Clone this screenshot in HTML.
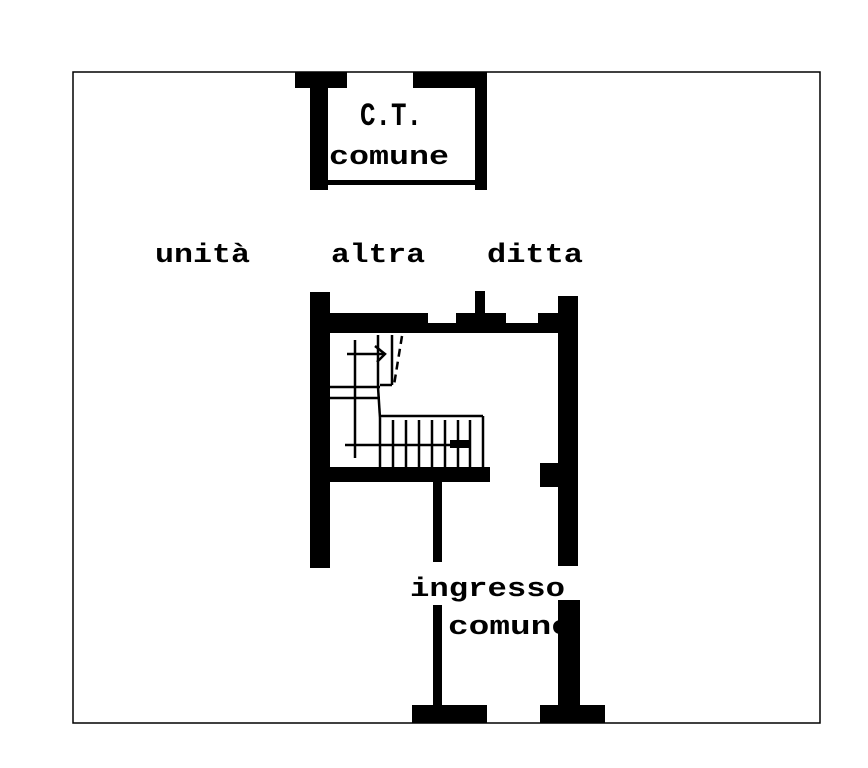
<!DOCTYPE html>
<html><head><style>
html,body{margin:0;padding:0;background:#fff;}
svg{display:block;}
text{font-family:"Liberation Mono",monospace;font-weight:bold;fill:#000;}
</style></head><body>
<svg width="868" height="768" viewBox="0 0 868 768" xmlns="http://www.w3.org/2000/svg">
<rect x="73" y="72" width="747" height="651" fill="none" stroke="#000" stroke-width="1.5"/>
<g font-size="27">
<text x="360" y="125" font-size="32" textLength="62" lengthAdjust="spacingAndGlyphs">C.T.</text>
<text x="329" y="164" textLength="120" lengthAdjust="spacingAndGlyphs">comune</text>
<text x="155" y="262" textLength="95" lengthAdjust="spacingAndGlyphs">unità</text>
<text x="331" y="262" textLength="94" lengthAdjust="spacingAndGlyphs">altra</text>
<text x="487" y="262" textLength="96" lengthAdjust="spacingAndGlyphs">ditta</text>
<text x="410" y="596" textLength="155" lengthAdjust="spacingAndGlyphs">ingresso</text>
<text x="448" y="634" textLength="124" lengthAdjust="spacingAndGlyphs">comune</text>
</g>
<g fill="#000">
<rect x="295" y="72" width="52" height="16"/>
<rect x="413" y="72" width="74" height="16"/>
<rect x="310" y="72" width="18" height="118"/>
<rect x="475" y="72" width="12" height="118"/>
<rect x="328" y="180" width="147" height="5"/>
<rect x="310" y="292" width="20" height="276"/>
<rect x="330" y="313" width="98" height="20"/>
<rect x="428" y="323" width="30" height="10"/>
<rect x="456" y="313" width="50" height="20"/>
<rect x="506" y="323" width="32" height="10"/>
<rect x="538" y="313" width="20" height="20"/>
<rect x="475" y="291" width="10" height="22"/>
<rect x="558" y="296" width="20" height="270"/>
<rect x="540" y="463" width="18" height="24"/>
<rect x="330" y="467" width="160" height="15"/>
<rect x="433" y="482" width="9" height="80"/>
<rect x="433" y="605" width="9" height="103"/>
<rect x="558" y="600" width="22" height="110"/>
<rect x="412" y="705" width="75" height="18"/>
<rect x="540" y="705" width="65" height="18"/>
</g>
<g stroke="#000" stroke-width="2.5" fill="none">
<line x1="330" y1="387" x2="380" y2="387"/>
<line x1="330" y1="398" x2="380" y2="398"/>
<line x1="378" y1="387" x2="380" y2="418"/>
<line x1="380" y1="416" x2="483" y2="416"/>
<line x1="483" y1="416" x2="483" y2="467"/>
<line x1="378" y1="335" x2="378" y2="387"/>
<line x1="380" y1="385" x2="392" y2="385"/>
<line x1="392" y1="335" x2="392" y2="385"/>
<line x1="355" y1="340" x2="355" y2="458"/>
<line x1="347" y1="354" x2="385" y2="354"/>
<line x1="345" y1="445" x2="470" y2="445"/>
<line x1="380" y1="418" x2="380" y2="467"/>
<line x1="393" y1="420" x2="393" y2="467"/>
<line x1="406" y1="420" x2="406" y2="467"/>
<line x1="419" y1="420" x2="419" y2="467"/>
<line x1="432" y1="420" x2="432" y2="467"/>
<line x1="445" y1="420" x2="445" y2="467"/>
<line x1="458" y1="420" x2="458" y2="467"/>
<line x1="470" y1="420" x2="470" y2="467"/>
<line x1="402" y1="336" x2="394" y2="385" stroke-dasharray="8,5"/>
<polyline points="375,346 385,354 377,362"/>
</g>
<rect x="450" y="440" width="20" height="8" fill="#000"/>
</svg>
</body></html>
